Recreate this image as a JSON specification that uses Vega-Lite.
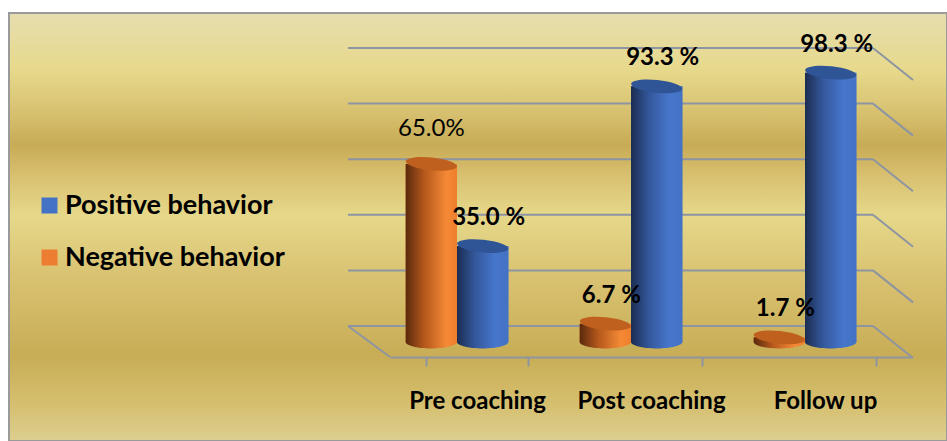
{
  "$schema": "https://vega.github.io/schema/vega-lite/v6.json",
  "autosize": {"type": "none"},
  "width": 938,
  "height": 428,
  "padding": {"left": 9, "top": 13, "right": 0, "bottom": 0},
  "background": "white",
  "config": {
    "font": "Lato",
    "view": {
      "fill": {
        "gradient": "linear", "x1": 0, "y1": 0, "x2": 0, "y2": 1,
        "stops": [
          {"offset": 0, "color": "#e6ddaf"},
          {"offset": 0.133, "color": "#e7d98b"},
          {"offset": 0.227, "color": "#d8c272"},
          {"offset": 0.308, "color": "#c8ab55"},
          {"offset": 0.379, "color": "#d8c070"},
          {"offset": 0.472, "color": "#e6d88a"},
          {"offset": 0.624, "color": "#d8c170"},
          {"offset": 0.8, "color": "#c8ad56"},
          {"offset": 0.904, "color": "#d4bd6c"},
          {"offset": 1, "color": "#ddcf90"}
        ]
      },
      "stroke": "#9a9a9a",
      "strokeWidth": 2
    }
  },
  "datasets": {
    "bars": [
      {"stage": "Pre coaching", "behavior": "Negative behavior", "percent": 65.0, "label": "65.0%"},
      {"stage": "Pre coaching", "behavior": "Positive behavior", "percent": 35.0, "label": "35.0 %"},
      {"stage": "Post coaching", "behavior": "Negative behavior", "percent": 6.7, "label": "6.7 %"},
      {"stage": "Post coaching", "behavior": "Positive behavior", "percent": 93.3, "label": "93.3 %"},
      {"stage": "Follow up", "behavior": "Negative behavior", "percent": 1.7, "label": "1.7 %"},
      {"stage": "Follow up", "behavior": "Positive behavior", "percent": 98.3, "label": "98.3 %"}
    ],
    "grid": [{"v": 0}, {"v": 20}, {"v": 40}, {"v": 60}, {"v": 80}, {"v": 100}]
  },
  "layer": [
    {
      "data": {"name": "grid"},
      "encoding": {
        "x": {"datum": 0, "type": "quantitative", "scale": {"domain": [0, 1], "range": [339, 864]}, "axis": null},
        "y": {"field": "v", "type": "quantitative", "scale": {"domain": [0, 100], "range": [313, 35]}, "axis": null}
      },
      "layer": [
        {
          "mark": {"type": "rule", "color": "#8e95a2", "strokeWidth": 2},
          "encoding": {"x2": {"datum": 1}}
        },
        {
          "mark": {"type": "rule", "color": "#8e95a2", "strokeWidth": 2, "x2Offset": 40, "y2Offset": 32},
          "encoding": {"x": {"datum": 1, "type": "quantitative"}, "x2": {"datum": 1}, "y2": {"field": "v"}}
        },
        {
          "transform": [{"filter": "datum.v == 0"}],
          "mark": {"type": "rule", "color": "#8e95a2", "strokeWidth": 2, "x2Offset": 42, "y2Offset": 31},
          "encoding": {"x2": {"datum": 0}, "y2": {"field": "v"}}
        }
      ]
    },
    {
      "data": {"name": "bars"},
      "encoding": {
        "x": {
          "field": "stage", "type": "nominal",
          "scale": {"domain": ["Pre coaching", "Post coaching", "Follow up"], "range": [381, 903], "paddingInner": 0.41, "paddingOuter": 0.205},
          "axis": {
            "orient": "bottom", "offset": -84, "title": null, "labelAngle": 0,
            "domainColor": "#8e95a2", "domainWidth": 2,
            "tickColor": "#8e95a2", "tickWidth": 2, "tickSize": 9, "tickBand": "extent",
            "labelFont": "Lato", "labelFontSize": 24, "labelFontWeight": "bold", "labelColor": "#000000", "labelPadding": 23
          }
        },
        "xOffset": {"field": "behavior", "type": "nominal", "sort": ["Negative behavior", "Positive behavior"], "scale": {"range": [-20, 82.66]}},
        "y": {"field": "percent", "type": "quantitative", "scale": {"domain": [0, 100], "range": [329, 55]}, "axis": null}
      },
      "layer": [
        {
          "transform": [{"filter": "datum.behavior == 'Negative behavior'"}],
          "mark": {"type": "point", "shape": "M-1,0A1,0.25,0,1,0,1,0A1,0.25,0,1,0,-1,0Z", "size": 2635, "filled": true, "opacity": 1, "strokeWidth": 0,
            "fill": {"gradient": "linear", "x1": 0, "y1": 0, "x2": 1, "y2": 0, "stops": [{"offset": 0, "color": "#5a2a0c"}, {"offset": 0.35, "color": "#b2561b"}, {"offset": 0.8, "color": "#f58a36"}, {"offset": 1, "color": "#ee7e2c"}]}},
          "encoding": {"y": {"datum": 0}}
        },
        {
          "transform": [{"filter": "datum.behavior == 'Positive behavior'"}],
          "mark": {"type": "point", "shape": "M-1,0A1,0.25,0,1,0,1,0A1,0.25,0,1,0,-1,0Z", "size": 2635, "filled": true, "opacity": 1, "strokeWidth": 0,
            "fill": {"gradient": "linear", "x1": 0, "y1": 0, "x2": 1, "y2": 0, "stops": [{"offset": 0, "color": "#1b2d52"}, {"offset": 0.35, "color": "#34579b"}, {"offset": 0.75, "color": "#4677cc"}, {"offset": 1, "color": "#4472c4"}]}},
          "encoding": {"y": {"datum": 0}}
        },
        {
          "mark": {"type": "bar"},
          "encoding": {
            "color": {
              "field": "behavior", "type": "nominal",
              "scale": {"domain": ["Positive behavior", "Negative behavior"], "range": ["#4472c4", "#ed7d31"]},
              "legend": {
                "orient": "none", "legendX": 27, "legendY": 179, "title": null,
                "symbolType": "square", "symbolSize": 256, "symbolStrokeWidth": 0,
                "labelFont": "Lato", "labelFontSize": 27, "labelFontWeight": "bold", "labelColor": "#000000",
                "labelOffset": 2, "rowPadding": 24, "labelLimit": 0
              }
            }
          }
        },
        {
          "transform": [{"filter": "datum.behavior == 'Negative behavior'"}],
          "mark": {"type": "bar",
            "fill": {"gradient": "linear", "x1": 0, "y1": 0, "x2": 1, "y2": 0, "stops": [{"offset": 0, "color": "#5a2a0c"}, {"offset": 0.35, "color": "#b2561b"}, {"offset": 0.8, "color": "#f58a36"}, {"offset": 1, "color": "#ee7e2c"}]}}
        },
        {
          "transform": [{"filter": "datum.behavior == 'Positive behavior'"}],
          "mark": {"type": "bar",
            "fill": {"gradient": "linear", "x1": 0, "y1": 0, "x2": 1, "y2": 0, "stops": [{"offset": 0, "color": "#1b2d52"}, {"offset": 0.35, "color": "#34579b"}, {"offset": 0.75, "color": "#4677cc"}, {"offset": 1, "color": "#4472c4"}]}}
        },
        {
          "transform": [{"filter": "datum.behavior == 'Negative behavior'"}],
          "mark": {"type": "point", "shape": "M-1,0A1,0.25,0,1,0,1,0A1,0.25,0,1,0,-1,0Z", "size": 2635, "filled": true, "opacity": 1, "strokeWidth": 0, "fill": "#c0601f", "angle": 6}
        },
        {
          "transform": [{"filter": "datum.behavior == 'Positive behavior'"}],
          "mark": {"type": "point", "shape": "M-1,0A1,0.25,0,1,0,1,0A1,0.25,0,1,0,-1,0Z", "size": 2635, "filled": true, "opacity": 1, "strokeWidth": 0, "fill": "#2f5597", "angle": 6}
        },
        {
          "transform": [{"filter": "datum.percent == 65"}],
          "mark": {"type": "text", "font": "Lato", "fontSize": 24, "fontWeight": "normal", "color": "#000000", "baseline": "middle", "dy": -35},
          "encoding": {"text": {"field": "label"}}
        },
        {
          "transform": [{"filter": "datum.percent != 65"}],
          "mark": {"type": "text", "font": "Lato", "fontSize": 24, "fontWeight": "bold", "color": "#000000", "baseline": "middle", "dy": -28, "dx": 6},
          "encoding": {"text": {"field": "label"}}
        }
      ]
    }
  ],
  "resolve": {"scale": {"x": "independent", "y": "independent"}}
}
